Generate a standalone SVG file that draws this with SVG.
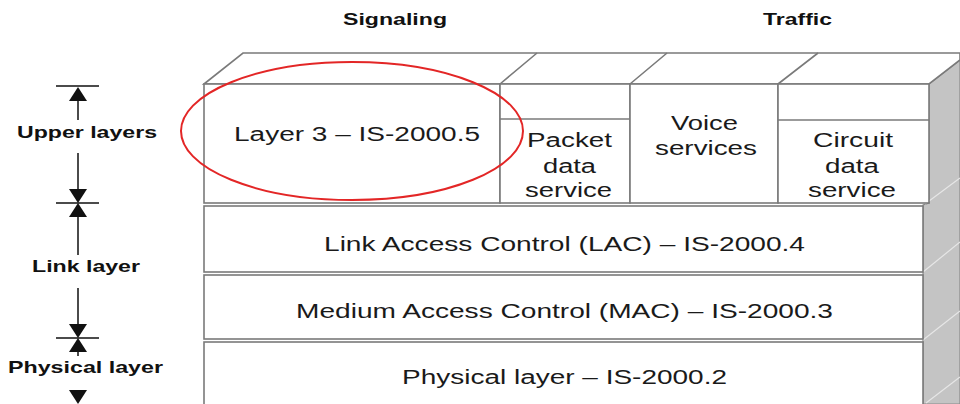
<svg xmlns="http://www.w3.org/2000/svg" xmlns:xlink="http://www.w3.org/1999/xlink" width="960" height="404" viewBox="0 0 960 404">
  <style>
    .edge { fill: #ffffff; stroke: #7a7a7a; stroke-width: 1.6; }
    .line { fill: none; stroke: #7a7a7a; stroke-width: 1.6; }
    .side { fill: #c4c4c4; stroke: #8a8a8a; stroke-width: 1.2; }
    .sideline { fill: none; stroke: #e6e6e6; stroke-width: 1.2; }
    .lbl { font-family: "Liberation Sans", Arial, sans-serif; font-size: 20px; fill: #1a1a1a; }
    .head { font-family: "Liberation Sans", Arial, sans-serif; font-size: 16.5px; font-weight: bold; fill: #111111; }
    .scale { fill: none; stroke: #111111; stroke-width: 1.5; }
    .tip { fill: #111111; }
  </style>
  <defs>
    <!-- arrowheads for the layer scale: tip at the origin -->
    <path id="tipUp" d="M0 0 L9 14 L-9 14 Z"/>
    <path id="tipDown" d="M0 0 L9 -14 L-9 -14 Z"/>
  </defs>
  <rect width="960" height="404" fill="#ffffff"/>

  <!-- column headings -->
  <text class="head" x="343" y="25" textLength="104" lengthAdjust="spacingAndGlyphs">Signaling</text>
  <text class="head" x="763" y="25" textLength="69" lengthAdjust="spacingAndGlyphs">Traffic</text>

  <!-- shaded right-hand side of the stack -->
  <g id="stack-side">
    <path class="side" d="M929 84 L960 60 L960 404 L923 404 L923 205 L929 203 Z"/>
    <path class="sideline" d="M925 204 L960 178 M923 272 L960 242 M923 340 L960 311 M926 403 L960 377"/>
  </g>

  <!-- top faces of the upper layer -->
  <g id="stack-top">
    <path class="edge" d="M204 84 L243 53 L960 53 L960 60 L929 84 Z"/>
    <path class="line" d="M500 84 L537 53 M630 84 L667 53 M778 84 L818 53"/>
  </g>

  <g id="layer3">
    <rect class="edge" x="204" y="84" width="296" height="119"/>
    <text class="lbl" x="234" y="141" textLength="246" lengthAdjust="spacingAndGlyphs">Layer 3 – IS-2000.5</text>
  </g>

  <g id="packet-data">
    <rect class="edge" x="500" y="84" width="130" height="119"/>
    <path class="line" d="M500 119 L630 119"/>
    <text class="lbl" x="527" y="147" textLength="85" lengthAdjust="spacingAndGlyphs">Packet</text>
    <text class="lbl" x="543" y="173" textLength="53" lengthAdjust="spacingAndGlyphs">data</text>
    <text class="lbl" x="525" y="197" textLength="87" lengthAdjust="spacingAndGlyphs">service</text>
  </g>

  <g id="voice">
    <rect class="edge" x="630" y="84" width="148" height="119"/>
    <text class="lbl" x="671" y="130" textLength="67" lengthAdjust="spacingAndGlyphs">Voice</text>
    <text class="lbl" x="655" y="155" textLength="102" lengthAdjust="spacingAndGlyphs">services</text>
  </g>

  <g id="circuit-data">
    <rect class="edge" x="778" y="84" width="151" height="119"/>
    <path class="line" d="M778 120 L929 120"/>
    <text class="lbl" x="813" y="147" textLength="80" lengthAdjust="spacingAndGlyphs">Circuit</text>
    <text class="lbl" x="825" y="173" textLength="54" lengthAdjust="spacingAndGlyphs">data</text>
    <text class="lbl" x="808" y="197" textLength="88" lengthAdjust="spacingAndGlyphs">service</text>
  </g>

  <g id="lac">
    <rect class="edge" x="204" y="206" width="719" height="66"/>
    <text class="lbl" x="324" y="251" textLength="481" lengthAdjust="spacingAndGlyphs">Link Access Control (LAC) – IS-2000.4</text>
  </g>

  <g id="mac">
    <rect class="edge" x="204" y="275" width="719" height="64"/>
    <text class="lbl" x="296" y="318" textLength="537" lengthAdjust="spacingAndGlyphs">Medium Access Control (MAC) – IS-2000.3</text>
  </g>

  <g id="physical">
    <rect class="edge" x="204" y="342" width="719" height="70"/>
    <text class="lbl" x="402" y="384" textLength="325" lengthAdjust="spacingAndGlyphs">Physical layer – IS-2000.2</text>
  </g>

  <!-- highlight around the signaling layer -->
  <ellipse id="highlight" cx="352" cy="131" rx="171" ry="69" fill="none" stroke="#e32626" stroke-width="2"/>

  <!-- layer scale on the left -->
  <g id="connectors">
    <path class="scale" d="M56 86 L99 86 M56 203 L99 203 M56 338 L99 338"/>
    <path class="scale" d="M78 100 L78 120 M78 153 L78 190 M78 216 L78 255 M78 288 L78 325 M78 350 L78 356"/>
    <use xlink:href="#tipUp" class="tip" x="78" y="87"/>
    <use xlink:href="#tipDown" class="tip" x="78" y="203"/>
    <use xlink:href="#tipUp" class="tip" x="78" y="203"/>
    <use xlink:href="#tipDown" class="tip" x="78" y="338"/>
    <use xlink:href="#tipUp" class="tip" x="78" y="338"/>
    <use xlink:href="#tipDown" class="tip" x="78" y="404"/>
  </g>

  <g id="scale-labels">
    <text class="head" x="17" y="138" textLength="140" lengthAdjust="spacingAndGlyphs">Upper layers</text>
    <text class="head" x="32" y="272" textLength="108" lengthAdjust="spacingAndGlyphs">Link layer</text>
    <text class="head" x="8" y="373" textLength="155" lengthAdjust="spacingAndGlyphs">Physical layer</text>
  </g>
</svg>
